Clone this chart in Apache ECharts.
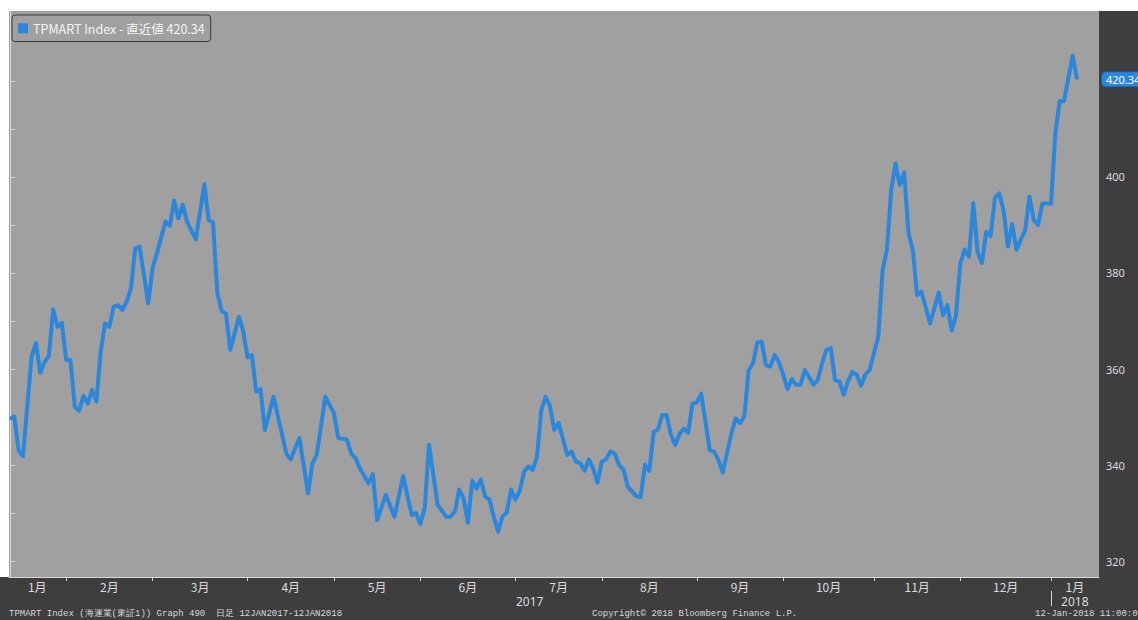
<!DOCTYPE html>
<html lang="ja">
<head>
    <meta charset="utf-8" />
    <script src="https://cdn.jsdelivr.net/npm/echarts@6/dist/echarts.min.js"></script>
</head>
<body style="margin: 0; background: #ffffff">
    <div id="container" style="width: 1138px; height: 620px;"></div>
    <script type="text/javascript">
        // trading-day index (12 Jan 2017 = 0) and index level
        const dayIdx = [
            0, 1, 2, 3, 5, 6, 7, 8, 9, 10, 11, 12, 13, 14, 15, 16, 17, 18, 19, 20,
            21, 22, 23, 24, 25, 26, 27, 28, 29, 30, 32, 33, 34, 36, 37, 38, 39, 40, 41, 43,
            45, 46, 47, 48, 49, 50, 51, 53, 54, 55, 56, 57, 58, 59, 61, 64, 65, 67, 69, 70,
            71, 73, 75, 76, 78, 79, 80, 81, 83, 84, 85, 87, 89, 91, 93, 94, 95, 96, 97, 99,
            101, 102, 103, 104, 105, 106, 107, 108, 109, 110, 111, 112, 113, 114, 115, 116, 117, 118, 119, 120,
            121, 122, 123, 124, 125, 126, 127, 129, 130, 131, 132, 133, 134, 135, 136, 137, 138, 139, 140, 141,
            142, 143, 145, 146, 147, 148, 149, 150, 151, 152, 153, 154, 155, 156, 157, 158, 159, 160, 162, 163,
            164, 165, 167, 168, 169, 170, 171, 172, 173, 174, 175, 176, 177, 178, 179, 180, 181, 182, 183, 184,
            185, 186, 187, 188, 189, 190, 191, 192, 193, 194, 195, 196, 197, 198, 199, 200, 201, 202, 203, 204,
            205, 206, 207, 208, 209, 210, 211, 213, 215, 216, 217, 218, 219, 220, 221, 222, 223, 224, 225, 226,
            227, 228, 229, 230, 231, 232, 233, 234, 235, 236, 237, 238, 239, 241, 242, 243, 244, 246, 247
        ];
        const values = [
            349.6, 350.1, 343.0, 341.8, 362.6, 365.4, 359.2, 361.5, 362.7, 372.4, 368.8, 369.6, 361.9, 361.9, 352.1, 351.3, 354.4, 352.8, 355.6, 353.2,
            363.6, 369.5, 368.8, 373.0, 373.3, 372.3, 374.0, 376.8, 385.1, 385.5, 373.7, 381.0, 384.1, 390.7, 389.8, 395.1, 391.4, 394.2, 390.7, 387.0,
            398.5, 391.0, 390.5, 375.8, 372.1, 371.5, 364.0, 370.9, 367.8, 362.4, 362.9, 355.3, 355.8, 347.3, 354.2, 342.3, 341.2, 345.6, 334.1, 340.3,
            342.1, 354.2, 350.8, 345.6, 345.3, 342.4, 341.4, 339.3, 336.2, 338.1, 328.5, 333.8, 329.2, 337.7, 329.6, 330.0, 327.7, 331.0, 344.2, 331.7,
            329.2, 329.2, 330.3, 334.9, 333.0, 328.0, 336.7, 335.1, 337.0, 333.4, 332.8, 329.2, 326.1, 329.3, 330.1, 334.9, 332.8, 334.6, 338.6, 339.7,
            339.0, 341.7, 351.5, 354.2, 352.3, 347.3, 348.8, 342.1, 342.8, 340.7, 340.4, 338.8, 341.2, 339.3, 336.3, 340.7, 341.2, 342.8, 342.4, 340.0,
            339.1, 335.5, 333.5, 333.3, 340.1, 338.8, 346.9, 347.4, 350.4, 350.4, 346.3, 344.2, 346.5, 347.6, 346.7, 352.8, 353.0, 354.9, 343.1, 342.8,
            341.0, 338.4, 346.6, 349.7, 348.7, 350.1, 359.8, 361.2, 365.5, 365.7, 360.8, 360.5, 362.9, 361.5, 358.8, 355.8, 357.9, 356.7, 356.7, 359.8,
            358.3, 356.7, 357.7, 361.2, 364.0, 364.3, 357.7, 357.4, 354.6, 357.4, 359.4, 358.8, 356.5, 358.8, 359.8, 363.3, 366.7, 380.6, 384.8, 397.3,
            402.8, 398.3, 400.9, 388.3, 384.8, 375.4, 376.1, 369.5, 375.9, 371.2, 373.3, 368.0, 371.2, 382.0, 384.9, 383.4, 394.6, 384.4, 382.1, 388.6,
            387.7, 395.6, 396.6, 393.1, 385.5, 390.2, 384.8, 387.0, 388.8, 395.9, 391.0, 390.0, 394.5, 394.5, 409.1, 415.8, 415.8, 425.3, 420.34
        ];
        const lastValue = 420.34;

        // month boundaries and labels (trading-day index)
        const monthTicks = [13, 33, 55, 75, 95, 117, 137, 159, 179, 200, 220, 241];
        const monthLabelPos = [6.3, 23, 44, 65, 85, 106, 127, 148, 169, 189.5, 210, 230.5, 246.5];
        const monthNames = ['1月', '2月', '3月', '4月', '5月', '6月', '7月', '8月', '9月', '10月', '11月', '12月', '1月'];
        const yearLabelPos = [120.3, 246.5];
        const yearNames = ['2017', '2018'];
        const yearTicks = [241];

        const yLabels = [320, 340, 360, 380, 400];
        const yTicks = [320, 330, 340, 350, 360, 370, 380, 390, 400, 410, 420, 430];

        const seriesData = dayIdx.map(function (d, i) {
            return [d, values[i]];
        });

        const lineColor = '#2b87dc';
        const axisText = '#dcdcdc';
        const monoFont = '"Liberation Mono", "DejaVu Sans Mono", monospace';

        var dom = document.getElementById('container');
        var myChart = echarts.init(dom, null, {
            renderer: 'svg'
        });

        var option = {
            backgroundColor: '#3e3e3e',
            animation: false,
            grid: {
                left: 9,
                right: 39,
                top: 11,
                bottom: 43,
                show: true,
                backgroundColor: '#a0a0a0',
                borderWidth: 0
            },
            legend: {
                left: 12,
                top: 15,
                padding: [7, 6, 7, 6],
                backgroundColor: '#a0a0a0',
                borderColor: '#3a3a3a',
                borderWidth: 1,
                borderRadius: 3,
                icon: 'rect',
                itemWidth: 10,
                itemHeight: 10,
                itemGap: 4,
                textStyle: {
                    color: '#f4f4f4',
                    fontSize: 12.5,
                    fontFamily: '"Noto Sans CJK JP", "Noto Sans", sans-serif'
                },
                formatter: function (name) {
                    return name + ' - 直近値 ' + lastValue.toFixed(2);
                },
                data: ['TPMART Index']
            },
            xAxis: [{
                    type: 'value',
                    min: -0.23,
                    max: 252.1,
                    position: 'bottom',
                    splitLine: { show: false },
                    axisLine: {
                        show: true,
                        lineStyle: { color: '#d8d8d8', width: 1 }
                    },
                    axisTick: {
                        show: true,
                        inside: false,
                        length: 4,
                        customValues: monthTicks,
                        lineStyle: { color: '#d8d8d8' }
                    },
                    axisLabel: {
                        customValues: monthLabelPos,
                        margin: 3,
                        color: axisText,
                        fontSize: 12,
                        fontFamily: '"Noto Sans CJK JP", sans-serif',
                        formatter: function (v) {
                            var k = monthLabelPos.indexOf(v);
                            return k >= 0 ? monthNames[k] : '';
                        }
                    }
                },
                {
                    type: 'value',
                    min: -0.23,
                    max: 252.1,
                    position: 'bottom',
                    offset: 14,
                    splitLine: { show: false },
                    axisLine: { show: false },
                    axisTick: {
                        show: true,
                        inside: false,
                        length: 15,
                        customValues: yearTicks,
                        lineStyle: { color: '#d8d8d8' }
                    },
                    axisLabel: {
                        customValues: yearLabelPos,
                        margin: 4,
                        color: axisText,
                        fontSize: 12,
                        fontFamily: '"Noto Sans", sans-serif',
                        formatter: function (v) {
                            var k = yearLabelPos.indexOf(v);
                            return k >= 0 ? yearNames[k] : '';
                        }
                    }
                }
            ],
            yAxis: {
                type: 'value',
                position: 'right',
                min: 316.67,
                max: 434.58,
                splitLine: { show: false },
                axisLine: {
                    show: true,
                    lineStyle: { color: '#d8d8d8', width: 1 }
                },
                axisTick: {
                    show: true,
                    inside: false,
                    length: 5,
                    customValues: yTicks,
                    lineStyle: { color: '#d8d8d8' }
                },
                axisLabel: {
                    customValues: yLabels,
                    margin: 7,
                    color: axisText,
                    fontSize: 11,
                    fontFamily: '"Noto Sans", sans-serif'
                }
            },
            series: [{
                name: 'TPMART Index',
                type: 'line',
                xAxisIndex: 0,
                symbol: 'none',
                clip: false,
                color: lineColor,
                lineStyle: {
                    width: 4,
                    join: 'round'
                },
                data: seriesData,
                markLine: {
                    silent: true,
                    symbol: 'none',
                    lineStyle: { color: 'rgba(0,0,0,0)', width: 0, type: 'solid' },
                    label: {
                        show: true,
                        position: 'end',
                        distance: 3,
                        color: '#ffffff',
                        fontSize: 11,
                        fontFamily: '"Noto Sans", sans-serif',
                        backgroundColor: lineColor,
                        borderColor: '#1d5fa0',
                        borderWidth: 1,
                        borderRadius: 4,
                        padding: [2, 4, 1, 4],
                        formatter: function () {
                            return lastValue.toFixed(2);
                        }
                    },
                    data: [{ yAxis: lastValue }]
                }
            }],
            graphic: [{
                    type: 'rect',
                    left: 0,
                    top: 0,
                    shape: { width: 1138, height: 11 },
                    style: { fill: '#ffffff' }
                },
                {
                    type: 'rect',
                    left: 0,
                    top: 11,
                    shape: { width: 9, height: 566 },
                    style: { fill: '#ffffff' }
                },
                {
                    type: 'text',
                    left: 9,
                    top: 609,
                    style: {
                        text: 'TPMART Index (海運業(東証1)) Graph 490  日足 12JAN2017-12JAN2018',
                        fill: '#d8d8d8',
                        font: '9px ' + monoFont
                    }
                },
                {
                    type: 'text',
                    left: 592,
                    top: 609,
                    style: {
                        text: 'Copyright© 2018 Bloomberg Finance L.P.',
                        fill: '#d8d8d8',
                        font: '9px ' + monoFont
                    }
                },
                {
                    type: 'text',
                    left: 1035,
                    top: 609,
                    style: {
                        text: '12-Jan-2018 11:00:00',
                        fill: '#d8d8d8',
                        font: '9px ' + monoFont
                    }
                }
            ]
        };

        myChart.setOption(option);
        window.addEventListener('resize', myChart.resize);
    </script>
</body>
</html>
